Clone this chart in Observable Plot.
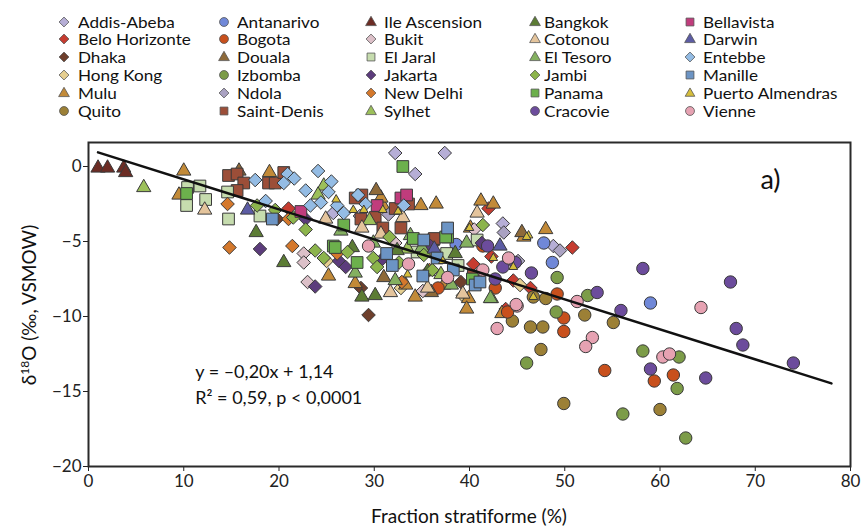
<!DOCTYPE html>
<html><head><meta charset="utf-8">
<script src="https://cdn.jsdelivr.net/npm/d3@7"></script>
<script src="https://cdn.jsdelivr.net/npm/@observablehq/plot@0.6"></script>
<style>
body{margin:0;background:#fff;font-family:Lato,"Open Sans",sans-serif;}
#wrap{position:relative;width:861px;height:528px;overflow:hidden;}
#legend{position:absolute;left:0;top:0;width:861px;height:125px;}
.lt{position:absolute;font-size:16px;line-height:14px;height:14px;white-space:nowrap;color:#111;transform:scale(1.07,0.92);transform-origin:0 50%;}
.lm{position:absolute;width:14px;height:14px;}
#chart{position:absolute;left:0;top:125px;}
</style></head><body>
<div id="wrap"><div id="legend"></div><div id="chart"></div></div>
<script>
// ---- sites (legend order: 5 columns x 6 rows) ----
const siteNames = ["Addis-Abeba","Belo Horizonte","Dhaka","Hong Kong","Mulu","Quito",
  "Antanarivo","Bogota","Douala","Izbomba","Ndola","Saint-Denis",
  "Ile Ascension","Bukit","El Jaral","Jakarta","New Delhi","Sylhet",
  "Bangkok","Cotonou","El Tesoro","Jambi","Panama","Cracovie",
  "Bellavista","Darwin","Entebbe","Manille","Puerto Almendras","Vienne"];
const siteSymbols = ["diamond2","diamond2","diamond2","diamond2","triangle","circle",
  "circle","circle","triangle","circle","diamond2","square",
  "triangle","diamond2","square","diamond2","diamond2","triangle",
  "triangle","triangle","triangle","diamond2","square","circle",
  "square","triangle","diamond2","square","triangle","circle"];
const siteColors = ["#b6aed6","#c63c30","#6e3f2c","#e6cf90","#c28a38","#9c8036",
  "#7088d8","#c8501c","#8e6a3a","#7c9c48","#aaa2c2","#9c4e38",
  "#6c2c24","#dcc0c8","#c6dcae","#5c3c7c","#d4782c","#9cc05a",
  "#5c7c34","#e4c49c","#84b060","#8cb44c","#6cb04c","#6c4c9c",
  "#c03c7c","#5c5ca4","#94bce4","#6c94c4","#d6be3c","#e6a2b2"];

// ---- observations: [fraction stratiforme %, d18O permil] ----
const addisAbeba = [[32.2,0.9],[37.4,0.9],[34.3,-0.5],[43.5,-3.8],[48.8,-5.3],[25.7,-3.1],[28.5,-3.3]];
const beloHorizonte = [[21,-2.8],[40.4,-6.5],[42,-2.8],[44.6,-7.6],[46.4,-8.1],[50.8,-5.4],[43.8,-9.5],[42.3,-6.0]];
const dhaka = [[29.4,-9.9],[39.1,-7.7],[28.6,-8.1],[19.8,-3.5]];
const hongKong = [[36.1,-5.6],[39.3,-8.6],[32.8,-8.1],[25,-6.3],[45.3,-7.9]];
const mulu = [[10,-0.3],[9.5,-1.9],[19,-0.4],[25.2,-7.3],[30.9,-2.6],[34.9,-2.6],[36.5,-2.5],[41.2,-2.3],[42.5,-2.5],[48,-4.2],[45.7,-4.7],[40.1,-4.1],[28,-7.8],[33.3,-7.9],[34.3,-8.7],[37.3,-7.9],[39.9,-8.8],[39.7,-9.5],[30.7,-2.1],[43.4,-9.8]];
const quito = [[46.7,-8.7],[48,-8.8],[46.4,-10.7],[47.7,-10.7],[52.1,-9.9],[55.1,-10.4],[47.5,-12.2],[49.9,-15.8],[60,-16.2],[44.5,-10.3]];
const antanarivo = [[47.8,-5.1],[48.7,-6.4],[59,-9.1],[38.6,-5.2]];
const bogota = [[36.7,-8.1],[41.4,-5.3],[44,-9.7],[42.7,-8.1],[49.2,-8.5],[49.9,-10.1],[49.9,-11.0],[54.2,-13.6],[61.4,-13.9],[59.4,-14.3]];
const douala = [[15.8,-0.3],[30.2,-1.6],[45.5,-4.4],[36,-8.4],[31,-7.4]];
const izbomba = [[49.2,-7.4],[49.1,-9.7],[52.4,-8.6],[58.2,-12.3],[62,-12.7],[61.8,-14.8],[56.1,-16.5],[62.7,-18.1],[46,-13.1]];
const ndola = [[45.1,-6.3],[43.6,-4.4],[31.5,-3.2],[49.5,-5.6]];
const saintDenis = [[14.7,-0.6],[15.6,-0.5],[16.3,-1.1],[15.6,-1.6],[18.9,-1.1],[19.6,-1.1],[28,-2.1],[28.7,-1.9],[28.6,-3.5],[30.1,-3.4],[30.9,-4.1],[32.8,-4.1],[33.6,-2.5],[36.2,-4.9],[32.2,-2.8],[36.3,-4.8],[20.5,-0.4],[40.4,-7.3]];
const ileAscension = [[1,-0.1],[2,-0.1],[3.7,-0.1],[3.9,-0.4]];
const bukit = [[22.6,-5.8],[22.6,-6.4],[23,-7.7],[35.1,-8.3],[40.5,-4.2],[32.2,-5.1]];
const elJaral = [[10.4,-1.4],[11.7,-1.3],[10.3,-2.6],[12.3,-2.2],[14.6,-1.7],[14.7,-3.5],[18,-3.3],[34.5,-5.7],[38.8,-6.6],[37.6,-5.8],[40.8,-4.9]];
const jakarta = [[18,-5.5],[23.8,-8],[22.8,-3.5],[26.3,-6.3],[27,-6.7],[30.8,-6.2],[41.3,-5.1],[35.9,-5.3]];
const newDelhi = [[14.6,-2.5],[14.8,-5.4],[21.4,-5.3],[21,-3.5],[26.1,-5.8],[35.8,-6.9],[32.9,-7.7]];
const sylhet = [[5.8,-1.4],[24.7,-1.3],[24.1,-1.9],[33.5,-5.5],[42.3,-8.8],[29.5,-3.6],[37,-7.2]];
const bangkok = [[17.6,-4.4],[20.5,-6.4],[30.1,-8.6],[28.7,-8.7],[32.4,-5.6],[27.7,-5.4],[38.5,-5.8],[35.6,-7.0]];
const cotonou = [[12.2,-2.9],[24.9,-3.5],[28.7,-4.1],[30.7,-4.5],[33,-3.4],[40.8,-3.1],[39.3,-8.5],[35.6,-8.1],[31.7,-8.4]];
const elTesoro = [[29.9,-5.1],[32.2,-7.6],[42.2,-8.8],[28,-7.1],[39.7,-5.1],[26.5,-4.3],[35,-5.4],[33.8,-4.6],[38.1,-7.9]];
const jambi = [[23.8,-5.6],[24.7,-6.1],[22.8,-4.2],[17.7,-2.6],[19.6,-2.9],[21.5,-3.4],[29.9,-6.1],[30.3,-6.7],[36.1,-6.9],[41.4,-3.9],[31.6,-4.7],[27.2,-5.7],[35.2,-5.9],[32.6,-6.4]];
const panama = [[10.3,-1.8],[33,0],[26.8,-3.9],[25.7,-5.3],[28.2,-6.4],[34.1,-4.8],[37.7,-4.7],[40.3,-7.5],[25.9,-5.4],[37.5,-4.7]];
const cracovie = [[41.9,-5.3],[42.7,-7.5],[43.5,-6.7],[46.5,-7.1],[58.2,-6.8],[67.4,-7.7],[68,-10.8],[68.7,-11.9],[74,-13.1],[64.8,-14.1],[59,-13.5],[55.9,-9.6],[53.4,-8.4],[44.8,-6.4]];
const bellavista = [[32.8,-2.1],[30.3,-2.6],[22.3,-3.0],[33.4,-1.9]];
const darwin = [[16.7,-2.9],[43.2,-5.3],[36.3,-5.5]];
const entebbe = [[17.5,-0.9],[20.9,-0.5],[20.5,-1.1],[24.1,-0.3],[25.5,-1.0],[25.2,-1.7],[26.1,-2.6],[24.4,-2.4],[18.6,-2.3],[23.3,-2.6],[26.8,-3.1],[28.3,-1.9],[29.1,-2.5],[33.1,-2.6],[22.8,-1.6],[21.6,-0.8]];
const manille = [[19.3,-3.5],[37.7,-4.1],[35.2,-4.9],[31.3,-5.8],[31.9,-6.6],[36.6,-6.1],[35.1,-7.3],[40.6,-7.9],[41.1,-7.7],[38.3,-6.9]];
const puertoAlmendras = [[27.8,-2.9],[28.9,-2.9],[30.9,-2.9],[32.5,-3.0],[40,-4.1],[46.2,-4.6],[46,-4.7],[44.6,-6.7],[46.7,-8.7],[42.5,-6.1],[33.5,-7.2],[26,-2.2],[37.2,-6.3]];
const vienne = [[29.4,-5.3],[33.6,-6.5],[37.7,-7.4],[41.4,-6.9],[44.1,-6.1],[45,-9.3],[42.9,-10.8],[64.3,-9.4],[51.3,-9.0],[52.9,-11.4],[52.2,-12],[60.3,-12.7],[61,-12.5],[44.9,-9.2]];

const sitePoints = [addisAbeba,beloHorizonte,dhaka,hongKong,mulu,quito,
  antanarivo,bogota,douala,izbomba,ndola,saintDenis,
  ileAscension,bukit,elJaral,jakarta,newDelhi,sylhet,
  bangkok,cotonou,elTesoro,jambi,panama,cracovie,
  bellavista,darwin,entebbe,manille,puertoAlmendras,vienne];

// regression
const regSlope = -0.20, regIntercept = 1.14, regXRange = [1, 78];
const eqLines = ["y = \u20130,20x + 1,14", "R\u00b2 = 0,59, p < 0,0001"];
const xTicks = [0,10,20,30,40,50,60,70,80];
const yTicks = [0,-5,-10,-15,-20];

// ---- legend ----
const colMarkerX = [64, 224, 371, 535, 690];
const colTextX = [78, 237, 384, 544, 703];
const rowY = [21.5, 39.4, 57.3, 75.2, 93.1, 111];
const symMap = {circle:d3.symbolCircle, square:d3.symbolSquare, diamond2:d3.symbolDiamond2, triangle:d3.symbolTriangle};
const legendSize = {circle:62, square:62, diamond2:62, triangle:50};
const legend = document.getElementById("legend");
siteNames.forEach((name, i) => {
  const c = Math.floor(i / 6), r = i % 6;
  const sym = siteSymbols[i];
  const m = document.createElementNS("http://www.w3.org/2000/svg","svg");
  m.setAttribute("class","lm"); m.setAttribute("width",14); m.setAttribute("height",14);
  m.style.left = (colMarkerX[c]-7)+"px"; m.style.top = (rowY[r]-7)+"px";
  const p = document.createElementNS("http://www.w3.org/2000/svg","path");
  p.setAttribute("d", d3.symbol(symMap[sym], legendSize[sym] * (name==="Puerto Almendras"?0.8:1))());
  p.setAttribute("transform", `translate(7,${sym==="triangle"?7.5:7})`);
  p.setAttribute("fill", siteColors[i]); p.setAttribute("stroke","#555"); p.setAttribute("stroke-width","0.8");
  m.appendChild(p); legend.appendChild(m);
  const t = document.createElement("div");
  t.className = "lt"; t.textContent = name;
  t.style.left = colTextX[c]+"px"; t.style.top = (rowY[r]-7)+"px";
  legend.appendChild(t);
});

// ---- chart ----
const rBySym = {circle:6.2, square:6.6, diamond2:6.1, triangle:5.3};
const dotMarks = siteNames.map((name, i) => Plot.dot(sitePoints[i], {
  x: d => d[0], y: d => d[1], symbol: siteSymbols[i], fill: siteColors[i],
  stroke: "#3a3a3a", strokeWidth: 1,
  r: name === "Puerto Almendras" ? 3.2 : rBySym[siteSymbols[i]]
}));
const regLine = regXRange.map(x => ({x, y: regSlope * x + regIntercept}));

const chart = Plot.plot({
  width: 861, height: 403,
  marginTop: 17, marginBottom: 62, marginLeft: 88, marginRight: 11,
  style: {fontFamily: "Lato, sans-serif", fontSize: "17px", color: "#222", background: "transparent"},
  x: {domain: [0, 80], ticks: xTicks, tickSize: 5, tickPadding: 3, label: null},
  y: {domain: [-20, 1.6], ticks: yTicks, tickSize: 5, tickPadding: 2, label: null},
  marks: [
    ...dotMarks,
    Plot.line(regLine, {x: "x", y: "y", stroke: "#111", strokeWidth: 2.5}),
    Plot.text(eqLines, {x: 11.2, y: (d, i) => -13.7 - i * 1.75, text: d => d, textAnchor: "start", fontSize: 18, fill: "#111"}),
    Plot.text(["a)"], {x: 71.6, y: -0.95, text: d => d, fontSize: 27, fill: "#111"}),
    Plot.frame({stroke: "#2a2a2a", strokeWidth: 2})
  ]
});
document.getElementById("chart").appendChild(chart);

// axis titles
const svg = d3.select(chart);
svg.append("text").attr("x", 469).attr("y", 398).attr("text-anchor", "middle")
  .attr("font-size", 19).attr("fill", "#111").text("Fraction stratiforme (%)");
const yl = svg.append("text").attr("transform", "translate(36,180) rotate(-90)")
  .attr("text-anchor", "middle").attr("font-size", 19).attr("fill", "#111");
yl.append("tspan").text("\u03b4");
yl.append("tspan").attr("font-size", 12).attr("dy", -7).text("18");
yl.append("tspan").attr("dy", 7).text("O (\u2030, VSMOW)");
</script>
</body></html>
